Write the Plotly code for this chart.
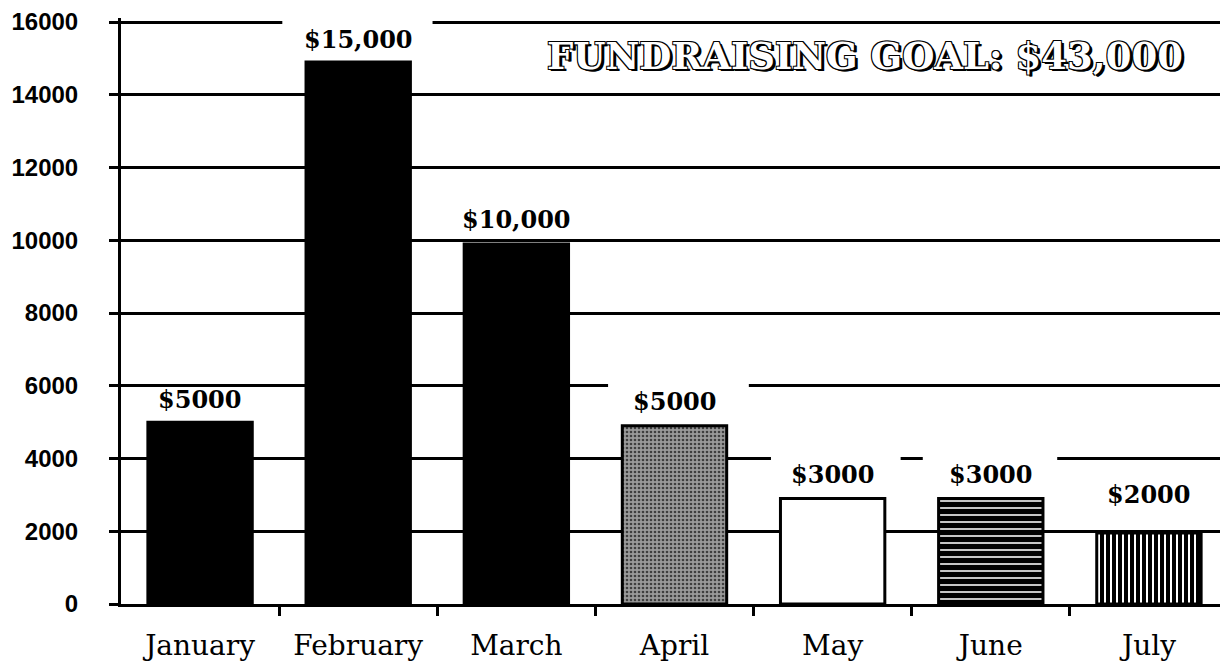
import plotly.graph_objects as go

months = ["January", "February", "March", "April", "May", "June", "July"]
amounts = [5000, 14900, 9900, 4900, 2900, 2900, 1950]
amount_labels = ["$5000", "$15,000", "$10,000", "$5000", "$3000", "$3000", "$2000"]
title_text = "FUNDRAISING GOAL: $43,000"
y_ticks = [0, 2000, 4000, 6000, 8000, 10000, 12000, 14000, 16000]
y_tick_text = ["0", "2000", "4000", "6000", "8000", "10000", "12000", "14000", "16000"]

# styles
fill_colors = ["black", "black", "black", "#9a9a9a", "white", "white", "white"]
pattern_shapes = ["", "", "", ".", "", "-", "|"]
pattern_fg = ["black", "black", "black", "#202020", "black", "black", "black"]
pattern_size = [6, 6, 6, 4, 6, 7, 6]
pattern_solid = [0.3, 0.3, 0.3, 0.35, 0.3, 0.78, 0.66]
pattern_opacity = [1, 1, 1, 0.75, 1, 1, 1]
label_shift = [6, 6, 8, 8, 8, 8, 22]

x = list(range(len(months)))

fig = go.Figure()
for i in x:
    fig.add_trace(go.Bar(
        x=[x[i]], y=[amounts[i]], width=0.66,
        marker=dict(
            color=fill_colors[i],
            line=dict(color="black", width=3),
            pattern=dict(shape=pattern_shapes[i], fgcolor=pattern_fg[i],
                         fgopacity=pattern_opacity[i],
                         size=pattern_size[i], solidity=pattern_solid[i],
                         fillmode="overlay"),
        ),
        hoverinfo="skip",
    ))

for i, (xv, yv, lab) in enumerate(zip(x, amounts, amount_labels)):
    fig.add_annotation(x=xv, y=yv, text=lab, showarrow=False, yanchor="bottom",
                       yshift=label_shift[i], xref="x", yref="y",
                       font=dict(family="DejaVu Serif", size=24, color="black", weight="bold"))

# gaps in grid lines (white strips between grid and bars)
gaps = [(0.52, 1.47, 16000), (2.58, 3.47, 6000), (3.61, 4.43, 4000), (4.57, 5.42, 4000)]
for x0, x1, yy in gaps:
    fig.add_shape(type="rect", xref="x", yref="y", x0=x0, x1=x1, y0=yy - 150, y1=yy + 150,
                  fillcolor="white", line=dict(width=0), layer="between")

fig.add_annotation(xref="paper", yref="paper", x=0.672, y=0.935, text=title_text,
                   xanchor="center", yanchor="middle", showarrow=False,
                   font=dict(family="DejaVu Serif", size=37, color="white", weight="bold",
                             shadow="1px 1px 0 black, -1px -1px 0 black, 1px -1px 0 black, -1px 1px 0 black, 2px 2px 0 black, 3px 2px 0 black"))

# the page body adds an 8px offset, so the figure is sized to the visible area
fig.update_layout(
    width=1220, height=658,
    margin=dict(l=113, r=0, t=10, b=62, autoexpand=False),
    paper_bgcolor="white", plot_bgcolor="white",
    showlegend=False,
    barmode="overlay",
    xaxis=dict(
        range=[-0.5, 6.5], tickvals=x, ticktext=months, ticks="",
        showgrid=False, zeroline=False, showline=True, linecolor="black", linewidth=3,
        ticklabelstandoff=14,
        tickfont=dict(family="DejaVu Serif", size=28, color="black"),
        minor=dict(tickvals=[0.5, 1.5, 2.5, 3.5, 4.5, 5.5], ticks="outside", ticklen=9,
                   tickwidth=3, tickcolor="black"),
    ),
    yaxis=dict(
        range=[0, 16110], tickvals=y_ticks, ticktext=y_tick_text, ticks="outside", ticklen=9, tickwidth=3,
        tickcolor="black", showgrid=True, gridcolor="black", gridwidth=3,
        zeroline=False, showline=True, linecolor="black", linewidth=3,
        ticklabelstandoff=26,
        tickfont=dict(family="Liberation Sans", size=24, color="black", weight="bold"),
    ),
)

fig.write_html("out.html")
